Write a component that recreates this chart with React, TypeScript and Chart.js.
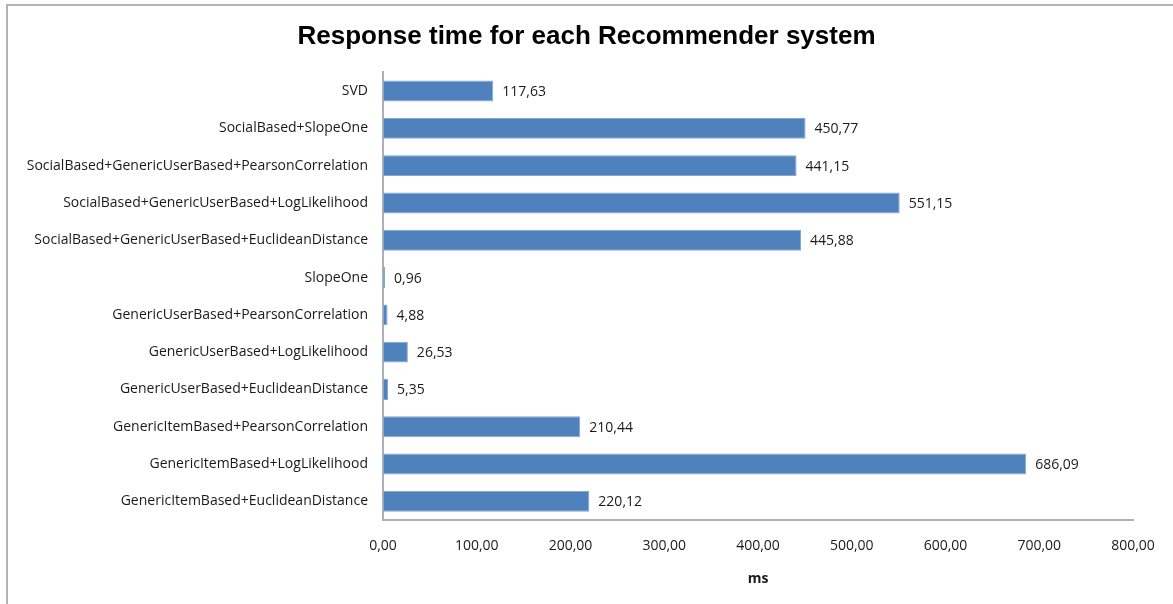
import React, { useEffect, useRef } from "react";
import { Chart, registerables } from "chart.js";

Chart.register(...registerables);

const categories: string[] = [
  "SVD",
  "SocialBased+SlopeOne",
  "SocialBased+GenericUserBased+PearsonCorrelation",
  "SocialBased+GenericUserBased+LogLikelihood",
  "SocialBased+GenericUserBased+EuclideanDistance",
  "SlopeOne",
  "GenericUserBased+PearsonCorrelation",
  "GenericUserBased+LogLikelihood",
  "GenericUserBased+EuclideanDistance",
  "GenericItemBased+PearsonCorrelation",
  "GenericItemBased+LogLikelihood",
  "GenericItemBased+EuclideanDistance",
];

const responseTimes: number[] = [
  117.63, 450.77, 441.15, 551.15, 445.88, 0.96, 4.88, 26.53, 5.35, 210.44, 686.09, 220.12,
];

const xTickMin = 0;
const xTickMax = 800;
const xTickStep = 100;

const chartTitle = "Response time for each Recommender system";
const xAxisTitle = "ms";

const fmt = (v: number) => v.toFixed(2).replace(".", ",");

const LABEL_FONT = "'Open Sans', 'Liberation Sans', sans-serif";

const valueLabelPlugin = {
  id: "valueLabels",
  afterDatasetsDraw(chart: any) {
    const ctx = chart.ctx;
    const meta = chart.getDatasetMeta(0);
    const data = chart.data.datasets[0].data as number[];
    ctx.save();
    ctx.font = `14px ${LABEL_FONT}`;
    ctx.fillStyle = "#1a1a1a";
    ctx.textAlign = "left";
    ctx.textBaseline = "middle";
    meta.data.forEach((el: any, i: number) => {
      ctx.fillText(fmt(data[i]), el.x + 9, el.y + 1);
    });
    ctx.restore();
  },
};

export default function App() {
  const canvasRef = useRef<HTMLCanvasElement | null>(null);

  useEffect(() => {
    if (!canvasRef.current) return;
    const chart = new Chart(canvasRef.current, {
      type: "bar",
      data: {
        labels: categories,
        datasets: [
          {
            data: responseTimes,
            backgroundColor: "#4F81BD",
            borderColor: "#86A6D4",
            borderWidth: 1,
            borderSkipped: false,
            minBarLength: 2,
            categoryPercentage: 0.8,
            barPercentage: 0.7,
          },
        ],
      },
      options: {
        indexAxis: "y",
        animation: false,
        responsive: false,
        maintainAspectRatio: false,
        layout: { padding: { left: 10, right: 10, top: 0, bottom: 0 } },
        plugins: {
          legend: { display: false },
          tooltip: { enabled: false },
          title: {
            display: true,
            text: chartTitle,
            color: "#000",
            font: { family: "'Liberation Sans', Arial, sans-serif", size: 26, weight: "bold", lineHeight: 1.2 },
            padding: { top: 21.4, bottom: 19.8 },
          },
        },
        scales: {
          x: {
            min: xTickMin,
            max: xTickMax,
            grid: { display: false, drawTicks: false },
            border: { display: true, color: "#B0B0B0", width: 2 },
            ticks: {
              stepSize: xTickStep,
              padding: 18,
              color: "#1a1a1a",
              font: { family: LABEL_FONT, size: 14 },
              callback: (v: any) => fmt(Number(v)),
              maxRotation: 0,
            },
            title: {
              display: true,
              text: xAxisTitle,
              color: "#1a1a1a",
              font: { family: LABEL_FONT, size: 14, weight: "bold" },
              padding: { top: 0, bottom: 17 },
            },
            afterFit: (s: any) => {
              s.height = 84;
            },
          },
          y: {
            grid: { display: false, drawTicks: false },
            border: { display: true, color: "#B0B0B0", width: 2 },
            ticks: {
              padding: 15,
              color: "#1a1a1a",
              font: { family: LABEL_FONT, size: 14 },
              autoSkip: false,
            },
            afterFit: (s: any) => {
              s.width = 373;
            },
          },
          yRight: {
            type: "category",
            axis: "y",
            position: "right",
            display: true,
            grid: { display: false, drawTicks: false },
            border: { display: false },
            ticks: { display: false },
            afterFit: (s: any) => {
              s.width = 30;
            },
          },
        },
      },
      plugins: [valueLabelPlugin],
    });
    return () => chart.destroy();
  }, []);

  return (
    <div
      style={{
        position: "fixed",
        left: 0,
        top: 0,
        width: 1173,
        height: 604,
        background: "#fff",
        overflow: "hidden",
      }}
    >
      <div
        style={{
          position: "absolute",
          left: 6,
          top: 4,
          width: 1300,
          height: 700,
          borderTop: "2px solid #B4B4B4",
          borderLeft: "2px solid #B4B4B4",
          boxSizing: "border-box",
        }}
      />
      <canvas
        ref={canvasRef}
        width={1173}
        height={604}
        style={{ position: "absolute", left: 0, top: 0, width: 1173, height: 604 }}
      />
    </div>
  );
}
